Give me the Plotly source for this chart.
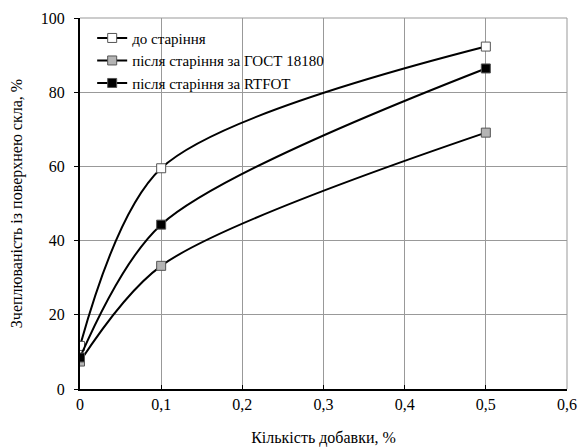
import plotly.graph_objects as go

x_vals = [0, 0.1, 0.5]
before = [11.6, 59.5, 92.3]
gost = [7.4, 33.2, 69.1]
rtfot = [8.5, 44.3, 86.4]

names = ["до старіння", "після старіння за ГОСТ 18180", "після старіння за RTFOT"]
colors = ["#ffffff", "#b4b4b4", "#000000"]
x_ticks = [0, 0.1, 0.2, 0.3, 0.4, 0.5, 0.6]
y_ticks = [0, 20, 40, 60, 80, 100]

font = "Times New Roman"

fig = go.Figure()
for name, ys, col in zip(names, [before, gost, rtfot], colors):
    fig.add_trace(go.Scatter(
        x=x_vals, y=ys, name=name, mode="lines+markers",
        line=dict(color="#000000", width=2, shape="spline", smoothing=0.85),
        marker=dict(symbol="square", size=9, color=col,
                    line=dict(color="#555555", width=1)),
    ))

fig.update_layout(
    width=578, height=440,
    margin=dict(l=72, r=19, t=10, b=59),
    paper_bgcolor="white", plot_bgcolor="white",
    separators=", ",
    font=dict(family=font, size=16, color="black"),
    showlegend=True,
    legend=dict(x=0.025, y=0.99, xanchor="left", yanchor="top",
                bgcolor="rgba(255,255,255,0)", borderwidth=0,
                font=dict(family=font, size=15), tracegroupgap=0,
                itemwidth=30),
    xaxis=dict(range=[0, 0.6], tickvals=x_ticks, showgrid=True,
               gridcolor="#999999", gridwidth=1,
               showline=True, linecolor="black", linewidth=2,
               ticks="inside", ticklen=4, tickcolor="black",
               zeroline=False, automargin=False,
               title=dict(text="Кількість добавки, %", font=dict(family=font, size=16), standoff=20),
               tickfont=dict(family=font, size=16)),
    yaxis=dict(range=[0, 100], tickvals=y_ticks, showgrid=True,
               gridcolor="#999999", gridwidth=1,
               showline=True, linecolor="black", linewidth=2,
               ticks="outside", ticklen=4, tickcolor="black",
               zeroline=False, automargin=False, ticklabelstandoff=6,
               title=dict(text="Зчеплюваність із поверхнею скла, %", font=dict(family=font, size=16), standoff=20),
               tickfont=dict(family=font, size=16)),
)
fig.add_shape(type="line", xref="paper", yref="paper", x0=1, x1=1, y0=0, y1=1,
              line=dict(color="#999999", width=1))
fig.add_shape(type="line", xref="paper", yref="paper", x0=0, x1=1, y0=1, y1=1,
              line=dict(color="#999999", width=1))

fig.write_html("out.html")
